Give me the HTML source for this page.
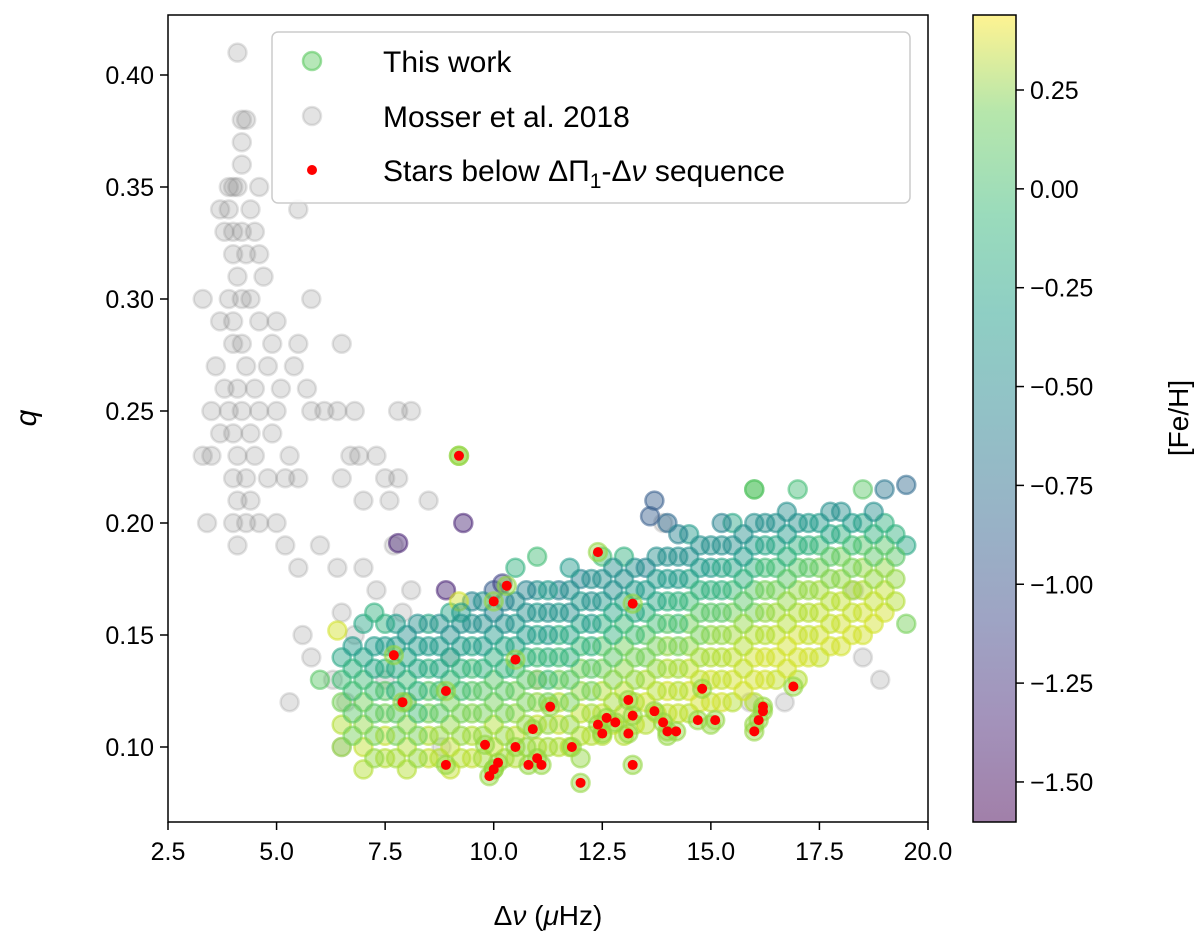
<!DOCTYPE html>
<html><head><meta charset="utf-8"><style>
html,body{margin:0;padding:0;background:#fff;}
svg{display:block;font-family:"Liberation Sans","DejaVu Sans",sans-serif;}
</style></head><body>
<svg id="chart" width="1200" height="941" viewBox="0 0 1200 941" xmlns="http://www.w3.org/2000/svg">
<defs>
<linearGradient id="vir" x1="0" y1="1" x2="0" y2="0">
<stop offset="0" stop-color="#440154"/><stop offset="0.13" stop-color="#482878"/><stop offset="0.25" stop-color="#3e4989"/><stop offset="0.38" stop-color="#31688e"/><stop offset="0.5" stop-color="#26828e"/><stop offset="0.63" stop-color="#1f9e89"/><stop offset="0.75" stop-color="#35b779"/><stop offset="0.88" stop-color="#6ece58"/><stop offset="1" stop-color="#fde725"/>
</linearGradient>
<clipPath id="plotclip"><rect x="168" y="15" width="760" height="807"/></clipPath>
</defs>
<g id="marks" clip-path="url(#plotclip)"></g>
<rect x="168" y="15" width="760" height="807" fill="none" stroke="#000" stroke-width="1.5"/>
<g id="axes"></g>
<g>
<rect x="272" y="32" width="638" height="171" rx="6" fill="#fff" fill-opacity="0.85" stroke="#ccc" stroke-width="1.5"/>
<circle cx="312" cy="61" r="9" fill="#5ec962" fill-opacity="0.45" stroke="#5ec962" stroke-opacity="0.6" stroke-width="2.5"/>
<text x="383" y="72" font-size="30" fill="#000">This work</text>
<circle cx="312" cy="116" r="9" fill="#808080" fill-opacity="0.22" stroke="#808080" stroke-opacity="0.22" stroke-width="2.5"/>
<text x="383" y="127" font-size="30" fill="#000">Mosser et al. 2018</text>
<circle cx="312" cy="170" r="5" fill="#ff0000"/>
<text x="383" y="181" font-size="30" fill="#000">Stars below ΔΠ<tspan font-size="21" dy="7">1</tspan><tspan dy="-7">-Δ</tspan><tspan font-style="italic">ν</tspan> sequence</text>
</g>
<text x="548" y="925" font-size="28" text-anchor="middle">Δ<tspan font-style="italic">ν</tspan> (<tspan font-style="italic">μ</tspan>Hz)</text>
<text x="36" y="418" font-size="30" font-style="italic" text-anchor="middle" transform="rotate(-90 36 418)">q</text>
<rect x="973" y="15" width="43" height="807" fill="url(#vir)" fill-opacity="0.5" stroke="#000" stroke-width="1.5"/>
<g id="cbaxis"></g>
<text x="1188" y="418" font-size="28" text-anchor="middle" transform="rotate(-90 1188 418)">[Fe/H]</text>
</svg>
<script>
const xTicks=[2.5,5.0,7.5,10.0,12.5,15.0,17.5,20.0];
const yTicks=[0.10,0.15,0.20,0.25,0.30,0.35,0.40];
const cTicks=[0.25,0.00,-0.25,-0.50,-0.75,-1.00,-1.25,-1.50];
const grayPts=[[4.1,0.41],[4.2,0.38],[4.3,0.38],[4.2,0.37],[4.2,0.36],[3.9,0.35],[4.0,0.35],[4.1,0.35],[4.6,0.35],[3.7,0.34],[3.9,0.34],[4.4,0.34],[5.5,0.34],[3.8,0.33],[4.0,0.33],[4.2,0.33],[4.5,0.33],[4.0,0.32],[4.3,0.32],[4.6,0.32],[4.1,0.31],[4.7,0.31],[3.3,0.30],[3.9,0.30],[4.2,0.30],[4.4,0.30],[5.8,0.30],[3.7,0.29],[4.0,0.29],[4.6,0.29],[5.0,0.29],[4.2,0.28],[4.0,0.28],[4.9,0.28],[5.5,0.28],[6.5,0.28],[3.6,0.27],[4.3,0.27],[4.8,0.27],[5.4,0.27],[3.8,0.26],[4.1,0.26],[4.5,0.26],[5.1,0.26],[5.7,0.26],[3.5,0.25],[3.9,0.25],[4.2,0.25],[4.6,0.25],[5.0,0.25],[5.8,0.25],[6.1,0.25],[6.4,0.25],[6.8,0.25],[7.8,0.25],[8.1,0.25],[3.7,0.24],[4.0,0.24],[4.4,0.24],[4.9,0.24],[3.3,0.23],[3.5,0.23],[4.1,0.23],[4.5,0.23],[5.3,0.23],[6.7,0.23],[6.9,0.23],[7.3,0.23],[4.0,0.22],[4.3,0.22],[4.8,0.22],[5.2,0.22],[5.5,0.22],[6.5,0.22],[7.5,0.22],[7.8,0.22],[4.1,0.21],[4.4,0.21],[7.0,0.21],[7.6,0.21],[8.5,0.21],[3.4,0.20],[4.0,0.20],[4.3,0.20],[4.6,0.20],[5.0,0.20],[4.1,0.19],[5.2,0.19],[6.0,0.19],[7.7,0.19],[5.5,0.18],[6.4,0.18],[7.0,0.18],[7.3,0.17],[8.1,0.17],[7.9,0.16],[6.5,0.16],[5.6,0.15],[6.8,0.15],[5.8,0.14],[6.3,0.13],[7.5,0.13],[5.3,0.12],[6.6,0.12],[8.0,0.12],[6.5,0.10],[8.8,0.10],[15.9,0.12],[18.5,0.14],[18.9,0.13],[13.9,0.20],[18.3,0.17],[16.7,0.12],[9.0,0.14],[11.0,0.13]];
const workPts=[
[6.5,.10,.1],[6.5,.11,.2],[6.5,.12,0],[6.5,.13,-.2],[6.5,.14,-.4],
[7,.09,.2],[7,.10,.25],[7,.11,.1],[7,.12,0],[7,.13,-.2],[7,.14,-.4],[7,.155,-.4],
[7.5,.095,.2],[7.5,.105,.25],[7.5,.115,0],[7.5,.125,-.1],[7.5,.135,-.3],[7.5,.145,-.5],[7.5,.155,-.3],
[8,.09,.2],[8,.10,.2],[8,.11,.1],[8,.12,0],[8,.13,-.2],[8,.14,-.4],[8,.15,-.6],
[8.5,.095,.25],[8.5,.105,.2],[8.5,.115,0],[8.5,.125,-.1],[8.5,.135,-.3],[8.5,.145,-.5],[8.5,.155,-.4],
[9,.09,.25],[9,.10,.25],[9,.11,.1],[9,.12,0],[9,.13,-.2],[9,.14,-.4],[9,.15,-.6],[9,.16,-.4],
[9.5,.095,.25],[9.5,.105,.2],[9.5,.115,.05],[9.5,.125,-.1],[9.5,.135,-.2],[9.5,.145,-.4],[9.5,.155,-.6],[9.5,.165,-.7],
[10,.09,.1],[10,.10,.25],[10,.11,.2],[10,.12,0],[10,.13,-.1],[10,.14,-.3],[10,.15,-.5],[10,.16,-.7],[10,.17,-1.0],
[10.5,.095,.2],[10.5,.105,.25],[10.5,.115,.1],[10.5,.125,0],[10.5,.135,-.2],[10.5,.145,-.4],[10.5,.155,-.5],[10.5,.165,-.6],[10.5,.18,-.3],
[11,.10,.2],[11,.11,.25],[11,.12,.1],[11,.13,0],[11,.14,-.2],[11,.15,-.4],[11,.16,-.5],[11,.17,-.6],[11,.185,-.2],
[11.5,.10,.2],[11.5,.11,.25],[11.5,.12,.2],[11.5,.13,0],[11.5,.14,-.2],[11.5,.15,-.3],[11.5,.16,-.5],[11.5,.17,-.7],
[12,.095,.1],[12,.105,.2],[12,.115,.25],[12,.125,.1],[12,.135,0],[12,.145,-.2],[12,.155,-.4],[12,.165,-.5],[12,.175,-.7],
[12.5,.105,.2],[12.5,.115,.25],[12.5,.125,.2],[12.5,.135,0],[12.5,.145,-.1],[12.5,.155,-.3],[12.5,.165,-.5],[12.5,.175,-.6],[12.5,.185,-.2],
[13,.105,.2],[13,.115,.3],[13,.125,.25],[13,.135,.1],[13,.145,0],[13,.155,-.2],[13,.165,-.4],[13,.175,-.6],[13,.185,-.3],
[13.5,.11,.2],[13.5,.12,.3],[13.5,.13,.2],[13.5,.14,0],[13.5,.15,-.1],[13.5,.16,-.3],[13.5,.17,-.5],[13.5,.18,-.7],
[14,.105,.1],[14,.115,.25],[14,.125,.3],[14,.135,.2],[14,.145,.1],[14,.155,-.1],[14,.165,-.3],[14,.175,-.5],[14,.185,-.6],[14,.20,-.9],
[14.5,.115,.2],[14.5,.125,.3],[14.5,.135,.25],[14.5,.145,.1],[14.5,.155,0],[14.5,.165,-.2],[14.5,.175,-.4],[14.5,.185,-.6],[14.5,.195,-.5],
[15,.11,.1],[15,.12,.25],[15,.13,.3],[15,.14,.2],[15,.15,.1],[15,.16,-.1],[15,.17,-.3],[15,.18,-.5],[15,.19,-.6],
[15.5,.12,.2],[15.5,.13,.3],[15.5,.14,.25],[15.5,.15,.15],[15.5,.16,0],[15.5,.17,-.2],[15.5,.18,-.4],[15.5,.19,-.6],[15.5,.20,-.4],
[16,.11,.1],[16,.12,.2],[16,.13,.3],[16,.14,.3],[16,.15,.2],[16,.16,0],[16,.17,-.1],[16,.18,-.3],[16,.19,-.5],[16,.20,-.6],[16,.215,-.1],
[16.5,.13,.25],[16.5,.14,.3],[16.5,.15,.25],[16.5,.16,.15],[16.5,.17,0],[16.5,.18,-.2],[16.5,.19,-.4],[16.5,.20,-.6],
[17,.13,.2],[17,.14,.3],[17,.15,.3],[17,.16,.2],[17,.17,.1],[17,.18,-.1],[17,.19,-.3],[17,.20,-.6],[17,.215,-.2],
[17.5,.14,.25],[17.5,.15,.3],[17.5,.16,.25],[17.5,.17,.15],[17.5,.18,0],[17.5,.19,-.2],[17.5,.20,-.5],
[18,.145,.3],[18,.155,.3],[18,.165,.25],[18,.175,.1],[18,.185,0],[18,.195,-.3],[18,.205,-.6],
[18.5,.15,.3],[18.5,.16,.3],[18.5,.17,.2],[18.5,.18,.1],[18.5,.19,-.1],[18.5,.20,-.4],[18.5,.215,-.1],
[19,.16,.3],[19,.17,.25],[19,.18,.1],[19,.19,-.1],[19,.20,-.3],[19,.215,-.8],
[19.5,.155,0],[19.5,.19,-.4],[19.5,.217,-.9],
[9.2,.23,.1],[9.3,.20,-1.4],[7.8,.191,-1.4],[8.9,.17,-1.4],[6.0,.13,-.1],[6.4,.152,.3],[13.7,.21,-1.0],[13.6,.203,-1.0],[10.2,.173,-1.2],[16.0,.215,-.1],[9.2,.165,.3]];
const workPts2=[
[6.75,.105,0],[6.75,.115,-.1],[6.75,.125,-.2],[6.75,.135,-.3],[6.75,.145,-.5],
[7.25,.095,.1],[7.25,.105,0],[7.25,.115,-.1],[7.25,.125,-.2],[7.25,.135,-.4],[7.25,.145,-.5],[7.25,.16,-.3],
[7.75,.095,.15],[7.75,.105,0],[7.75,.115,-.1],[7.75,.125,-.3],[7.75,.135,-.4],[7.75,.145,-.5],[7.75,.155,-.5],
[8.25,.095,.1],[8.25,.105,0],[8.25,.115,-.2],[8.25,.125,-.3],[8.25,.135,-.4],[8.25,.145,-.5],[8.25,.155,-.6],
[8.75,.095,.2],[8.75,.105,.1],[8.75,.115,-.1],[8.75,.125,-.2],[8.75,.135,-.4],[8.75,.145,-.5],[8.75,.155,-.6],
[9.25,.095,.2],[9.25,.105,.1],[9.25,.115,0],[9.25,.125,-.2],[9.25,.135,-.3],[9.25,.145,-.5],[9.25,.155,-.6],[9.25,.16,-.5],
[9.75,.095,.15],[9.75,.105,.1],[9.75,.115,0],[9.75,.125,-.1],[9.75,.135,-.3],[9.75,.145,-.5],[9.75,.155,-.6],[9.75,.165,-.6],
[10.25,.095,.15],[10.25,.105,.1],[10.25,.115,0],[10.25,.125,-.1],[10.25,.135,-.3],[10.25,.145,-.4],[10.25,.155,-.6],[10.25,.165,-.7],
[10.75,.10,.1],[10.75,.11,.1],[10.75,.12,0],[10.75,.13,-.1],[10.75,.14,-.3],[10.75,.15,-.5],[10.75,.16,-.6],[10.75,.17,-.7],
[11.25,.10,.15],[11.25,.11,.1],[11.25,.12,0],[11.25,.13,-.2],[11.25,.14,-.3],[11.25,.15,-.5],[11.25,.16,-.6],[11.25,.17,-.5],
[11.75,.10,.2],[11.75,.11,.1],[11.75,.12,0],[11.75,.13,-.1],[11.75,.14,-.3],[11.75,.15,-.4],[11.75,.16,-.6],[11.75,.17,-.6],[11.75,.18,-.5],
[12.25,.105,.2],[12.25,.115,.15],[12.25,.125,0],[12.25,.135,-.1],[12.25,.145,-.3],[12.25,.155,-.5],[12.25,.165,-.6],[12.25,.175,-.6],
[12.75,.11,.25],[12.75,.12,.15],[12.75,.13,.05],[12.75,.14,-.1],[12.75,.15,-.3],[12.75,.16,-.4],[12.75,.17,-.6],[12.75,.18,-.6],
[13.25,.11,.25],[13.25,.12,.2],[13.25,.13,.1],[13.25,.14,0],[13.25,.15,-.2],[13.25,.16,-.4],[13.25,.17,-.5],[13.25,.18,-.6],
[13.75,.115,.25],[13.75,.125,.2],[13.75,.135,.1],[13.75,.145,0],[13.75,.155,-.2],[13.75,.165,-.4],[13.75,.175,-.5],[13.75,.185,-.6],
[14.25,.115,.25],[14.25,.125,.2],[14.25,.135,.15],[14.25,.145,0],[14.25,.155,-.2],[14.25,.165,-.3],[14.25,.175,-.5],[14.25,.185,-.6],[14.25,.195,-.7],
[14.75,.12,.3],[14.75,.13,.25],[14.75,.14,.15],[14.75,.15,0],[14.75,.16,-.1],[14.75,.17,-.3],[14.75,.18,-.5],[14.75,.19,-.6],
[15.25,.12,.3],[15.25,.13,.25],[15.25,.14,.2],[15.25,.15,.1],[15.25,.16,-.1],[15.25,.17,-.3],[15.25,.18,-.4],[15.25,.19,-.6],[15.25,.20,-.7],
[15.75,.125,.3],[15.75,.135,.25],[15.75,.145,.2],[15.75,.155,.1],[15.75,.165,-.1],[15.75,.175,-.3],[15.75,.185,-.5],[15.75,.195,-.6],
[16.25,.13,.3],[16.25,.14,.3],[16.25,.15,.2],[16.25,.16,.1],[16.25,.17,0],[16.25,.18,-.2],[16.25,.19,-.4],[16.25,.20,-.6],
[16.75,.135,.3],[16.75,.145,.3],[16.75,.155,.2],[16.75,.165,.1],[16.75,.175,-.1],[16.75,.185,-.3],[16.75,.195,-.5],[16.75,.205,-.6],
[17.25,.14,.3],[17.25,.15,.25],[17.25,.16,.2],[17.25,.17,.1],[17.25,.18,-.1],[17.25,.19,-.3],[17.25,.20,-.5],
[17.75,.145,.3],[17.75,.155,.25],[17.75,.165,.2],[17.75,.175,.05],[17.75,.185,-.1],[17.75,.195,-.4],[17.75,.205,-.6],
[18.25,.15,.3],[18.25,.16,.25],[18.25,.17,.15],[18.25,.18,0],[18.25,.19,-.2],[18.25,.20,-.5],
[18.75,.155,.3],[18.75,.165,.25],[18.75,.175,.1],[18.75,.185,-.1],[18.75,.195,-.3],[18.75,.205,-.6],
[19.25,.165,.2],[19.25,.175,.1],[19.25,.185,-.1],[19.25,.195,-.3]];
const redPts=[[9.2,0.23],[7.7,0.141],[7.9,0.12],[8.9,0.125],[8.9,0.092],[9.8,0.101],[9.9,0.087],[10.0,0.09],[10.1,0.093],[10.0,0.165],[10.3,0.172],[10.5,0.139],[10.5,0.10],[10.8,0.092],[10.9,0.108],[11.0,0.095],[11.1,0.092],[11.3,0.118],[11.8,0.10],[12.0,0.084],[12.4,0.187],[12.4,0.11],[12.5,0.106],[12.6,0.113],[12.8,0.111],[13.1,0.121],[13.2,0.114],[13.1,0.106],[13.2,0.092],[13.2,0.164],[13.7,0.116],[13.9,0.111],[14.0,0.107],[14.2,0.107],[14.8,0.126],[14.7,0.112],[15.1,0.112],[16.0,0.107],[16.1,0.112],[16.2,0.118],[16.2,0.116],[16.9,0.127]];

const X=v=>168+(v-2.5)*(760/17.5);
const Y=v=>747-(v-0.10)*2240;
const CY=v=>90-(v-0.25)*395.4;
const CMIN=-1.60,CMAX=0.44;
const VIR=[[68,1,84],[72,40,120],[62,73,137],[49,104,142],[38,130,142],[31,158,137],[53,183,121],[110,206,88],[181,222,43],[253,231,37]];
function vir(v){let t=(v-CMIN)/(CMAX-CMIN);t=Math.max(0,Math.min(1,t));const s=t*(VIR.length-1);const i=Math.min(VIR.length-2,Math.floor(s));const f=s-i;const c=VIR[i].map((a,k)=>Math.round(a+(VIR[i+1][k]-a)*f));return `rgb(${c[0]},${c[1]},${c[2]})`;}
const NS='http://www.w3.org/2000/svg';
const marks=document.getElementById('marks');
function circ(parent,cx,cy,r,fill,fo,stroke,so,sw){const c=document.createElementNS(NS,'circle');c.setAttribute('cx',cx);c.setAttribute('cy',cy);c.setAttribute('r',r);c.setAttribute('fill',fill);c.setAttribute('fill-opacity',fo);if(stroke){c.setAttribute('stroke',stroke);c.setAttribute('stroke-opacity',so);c.setAttribute('stroke-width',sw);}parent.appendChild(c);return c;}
grayPts.forEach(p=>{const c=circ(marks,X(p[0]),Y(p[1]),9,'#808080',0.22,'#808080',0.22,2.5);

});
workPts.concat(workPts2).forEach(p=>{const col=vir(p[2]);const c=circ(marks,X(p[0]),Y(p[1]),9,col,0.45,col,0.55,2.5);

});
redPts.forEach(p=>{const col=vir(0.1);const c=circ(marks,X(p[0]),Y(p[1]),9,col,0.45,col,0.55,2.5);

});
redPts.forEach(p=>{const c=circ(marks,X(p[0]),Y(p[1]),5,'#ff0000',1);

});
const axes=document.getElementById('axes');
function line(g,x1,y1,x2,y2){const l=document.createElementNS(NS,'line');l.setAttribute('x1',x1);l.setAttribute('y1',y1);l.setAttribute('x2',x2);l.setAttribute('y2',y2);l.setAttribute('stroke','#000');l.setAttribute('stroke-width',1.5);g.appendChild(l);return l;}
function txt(g,x,y,s,anchor){const t=document.createElementNS(NS,'text');t.setAttribute('x',x);t.setAttribute('y',y);t.setAttribute('font-size','25');t.setAttribute('text-anchor',anchor);t.textContent=s;g.appendChild(t);return t;}
xTicks.forEach(v=>{line(axes,X(v),822,X(v),830);const t=txt(axes,X(v),860,v.toFixed(1),'middle');

});
yTicks.forEach(v=>{line(axes,160,Y(v),168,Y(v));const t=txt(axes,154,Y(v)+9,v.toFixed(2),'end');

});
const cb=document.getElementById('cbaxis');
cTicks.forEach(v=>{line(cb,1016,CY(v),1024,CY(v));const s=(v<0?'\u2212':'')+Math.abs(v).toFixed(2);const t=txt(cb,1030,CY(v)+9,s,'start');

});
</script>
</body></html>
